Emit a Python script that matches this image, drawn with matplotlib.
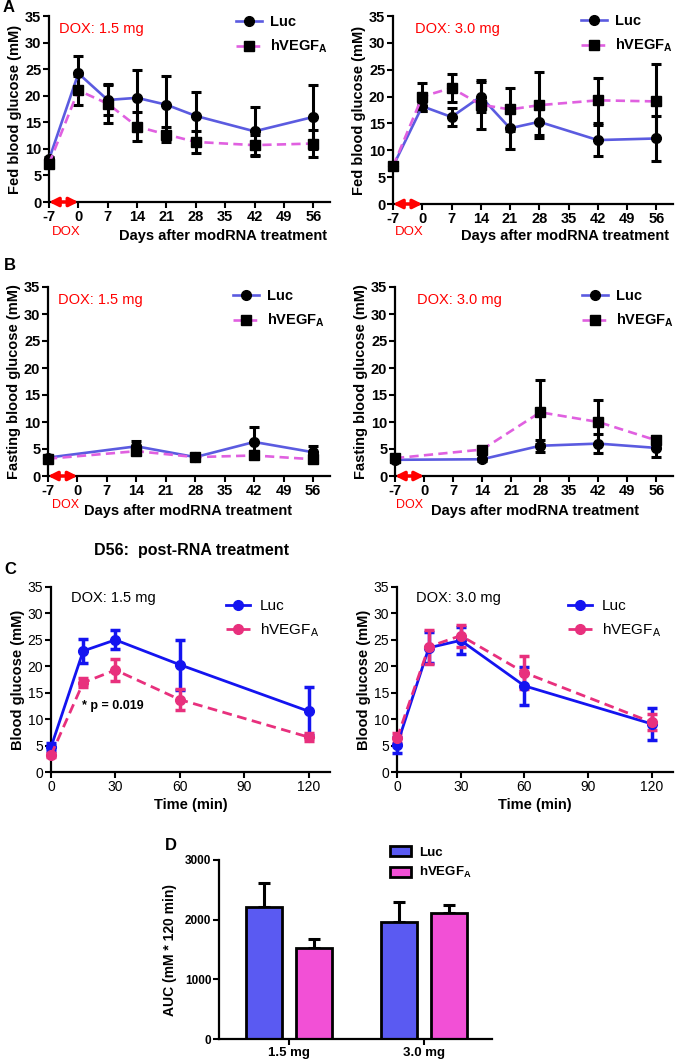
import matplotlib
matplotlib.use("Agg")
import matplotlib.pyplot as plt
from matplotlib.lines import Line2D
import numpy as np

plt.rcParams['font.family'] = ['Liberation Sans', 'DejaVu Sans']
plt.rcParams['mathtext.fontset'] = 'custom'
plt.rcParams['mathtext.rm'] = 'Liberation Sans'
plt.rcParams['mathtext.bf'] = 'Liberation Sans:bold'
plt.rcParams['axes.unicode_minus'] = False

# ---------------- data ----------------
days_A = [-7, 0, 7, 14, 21, 28, 42, 56]
fed15_luc = [8.0, 24.2, 19.2, 19.6, 18.3, 16.2, 13.3, 16.0]
fed15_luc_err = [0.5, 3.2, 2.8, 5.3, 5.5, 4.5, 4.6, 6.0]
fed15_veg = [7.2, 21.0, 18.5, 14.2, 12.7, 11.3, 10.7, 11.0]
fed15_veg_err = [0.6, 2.7, 3.7, 2.8, 1.4, 2.1, 1.9, 2.5]
fed30_luc = [7.0, 18.2, 16.2, 20.0, 14.1, 15.3, 11.9, 12.2]
fed30_luc_err = [0.4, 0.8, 1.6, 2.8, 3.9, 2.5, 2.9, 4.2]
fed30_veg = [7.0, 20.0, 21.6, 18.5, 17.6, 18.4, 19.3, 19.1]
fed30_veg_err = [0.4, 2.6, 2.6, 4.6, 4.0, 6.2, 4.2, 6.9]

days_B = [-7, 14, 28, 42, 56]
fast15_luc = [3.4, 5.5, 3.5, 6.3, 4.4]
fast15_luc_err = [0.3, 1.0, 0.3, 2.7, 1.2]
fast15_veg = [3.2, 4.6, 3.5, 3.8, 3.1]
fast15_veg_err = [0.3, 0.5, 0.3, 0.5, 0.5]
fast30_luc = [3.0, 3.1, 5.6, 6.0, 5.2]
fast30_luc_err = [0.3, 0.3, 1.1, 1.7, 1.6]
fast30_veg = [3.3, 4.9, 11.8, 10.0, 6.6]
fast30_veg_err = [0.3, 0.4, 5.9, 4.0, 0.8]

times_C = [0, 15, 30, 60, 120]
gtt15_luc = [4.7, 22.9, 25.0, 20.3, 11.5]
gtt15_luc_err = [0.8, 2.2, 1.8, 4.7, 4.5]
gtt15_veg = [3.2, 16.9, 19.3, 13.7, 6.6]
gtt15_veg_err = [0.4, 0.9, 2.1, 2.0, 0.8]
gtt30_luc = [5.1, 23.5, 24.9, 16.3, 9.1]
gtt30_luc_err = [1.5, 2.9, 2.6, 3.6, 3.0]
gtt30_veg = [6.4, 23.7, 25.8, 18.8, 9.4]
gtt30_veg_err = [1.0, 3.2, 2.1, 3.1, 1.5]

auc_groups = ['1.5 mg', '3.0 mg']
auc_luc = [2210, 1965]
auc_luc_err = [410, 330]
auc_veg = [1525, 2110]
auc_veg_err = [150, 135]

dose_labels = ['DOX: 1.5 mg', 'DOX: 3.0 mg']
veg_label = r'hVEGF$_\mathbf{A}$'
veg_label_r = r'hVEGF$_\mathrm{A}$'

# ---------------- figure ----------------
W, H = 679, 1062
fig = plt.figure(figsize=(W / 100, H / 100), dpi=100)


def axpx(l, r, t, b):
    return fig.add_axes([l / W, 1 - b / H, (r - l) / W, (b - t) / H])


def fpx(x, y):
    return (x / W, 1 - y / H)


LUC_A = '#5b5be0'
VEG_A = '#e060e0'
LUC_C = '#1414f0'
VEG_C = '#e8307d'
DASH = (0, (3.5, 2))


def style_axes(ax, bold=True, fs=10):
    for s in ['top', 'right']:
        ax.spines[s].set_visible(False)
    for s in ['left', 'bottom']:
        ax.spines[s].set_linewidth(1.6)
    ax.tick_params(width=1.5, length=4, labelsize=fs, pad=1.5)
    for lab in ax.get_xticklabels() + ax.get_yticklabels():
        lab.set_fontweight('bold' if bold else 'normal')


def time_panel(ax, days, luc, luc_e, veg, veg_e, dose, ylabel, legpos):
    ax.errorbar(days, luc, yerr=luc_e, color=LUC_A, lw=1.9, marker='o', ms=7,
                mfc='black', mec='black', ecolor='black', elinewidth=2.2,
                capsize=3.5, capthick=2.2, clip_on=False, zorder=3)
    ax.errorbar(days, veg, yerr=veg_e, color=VEG_A, lw=1.9, ls=DASH,
                marker='s', ms=7, mfc='black', mec='black', ecolor='black',
                elinewidth=2.2, capsize=3.5, capthick=2.2,
                clip_on=False, zorder=3)
    ax.set_xlim(-7, 60)
    ax.set_ylim(0, 35)
    ax.set_xticks(range(-7, 57, 7))
    ax.set_yticks(range(0, 36, 5))
    ax.set_ylabel(ylabel, fontsize=10.5, fontweight='bold', labelpad=2)
    style_axes(ax, fs=10.5)
    ax.text(0.035 if ax.get_position().x0 < 0.5 else 0.08, 0.93, dose,
            transform=ax.transAxes, color='red', fontsize=10.5, va='center')
    ax.annotate('', xy=(-7, 0), xytext=(0, 0),
                arrowprops=dict(arrowstyle='<|-|>', color='red', lw=2.5,
                                mutation_scale=13, shrinkA=0, shrinkB=0),
                annotation_clip=False, zorder=5)
    handles = [Line2D([], [], color=LUC_A, lw=1.9, marker='o', ms=7,
                      mfc='black', mec='black'),
               Line2D([], [], color=VEG_A, lw=1.9, ls=DASH, marker='s', ms=7,
                      mfc='black', mec='black')]
    ax.legend(handles, ['Luc', veg_label], loc='upper left',
              bbox_to_anchor=fpx(*legpos),
              bbox_transform=fig.transFigure, frameon=False,
              handlelength=1.8, handletextpad=0.5, labelspacing=0.6,
              borderpad=0, borderaxespad=0, prop={'weight': 'bold', 'size': 10.5})


# Panel A
axA1 = axpx(49, 330, 16, 202)
time_panel(axA1, days_A, fed15_luc, fed15_luc_err, fed15_veg, fed15_veg_err,
           dose_labels[0], 'Fed blood glucose (mM)', (236, 15))
axA2 = axpx(393, 673, 16, 204)
time_panel(axA2, days_A, fed30_luc, fed30_luc_err, fed30_veg, fed30_veg_err,
           dose_labels[1], 'Fed blood glucose (mM)', (581, 14))
fig.text(*fpx(66, 232), 'DOX', color='red', fontsize=9.5, ha='center', va='center')
fig.text(*fpx(223, 236), 'Days after modRNA treatment', fontsize=10.5,
         fontweight='bold', ha='center', va='center')
fig.text(*fpx(409, 232), 'DOX', color='red', fontsize=9.5, ha='center', va='center')
fig.text(*fpx(565, 236), 'Days after modRNA treatment', fontsize=10.5,
         fontweight='bold', ha='center', va='center')

# Panel B
axB1 = axpx(48, 330, 287, 476)
time_panel(axB1, days_B, fast15_luc, fast15_luc_err, fast15_veg, fast15_veg_err,
           dose_labels[0], 'Fasting blood glucose (mM)', (233, 289))
axB2 = axpx(395, 673, 287, 476)
time_panel(axB2, days_B, fast30_luc, fast30_luc_err, fast30_veg, fast30_veg_err,
           dose_labels[1], 'Fasting blood glucose (mM)', (582, 289))
fig.text(*fpx(66, 505), 'DOX', color='red', fontsize=9, ha='center', va='center')
fig.text(*fpx(188, 511), 'Days after modRNA treatment', fontsize=10.5,
         fontweight='bold', ha='center', va='center')
fig.text(*fpx(410, 505), 'DOX', color='red', fontsize=9, ha='center', va='center')
fig.text(*fpx(535, 511), 'Days after modRNA treatment', fontsize=10.5,
         fontweight='bold', ha='center', va='center')


# Panel C
def gtt_panel(ax, luc, luc_e, veg, veg_e, dose, legpos):
    ax.errorbar(times_C, luc, yerr=luc_e, color=LUC_C, lw=2, marker='o', ms=7,
                ecolor=LUC_C, elinewidth=2.5, capsize=3.5, capthick=2.5,
                clip_on=False, zorder=3)
    ax.errorbar(times_C, veg, yerr=veg_e, color=VEG_C, lw=2, ls=DASH,
                marker='o', ms=7, ecolor=VEG_C, elinewidth=2.5, capsize=3.5,
                capthick=2.5, clip_on=False, zorder=3)
    ax.set_xlim(0, 130)
    ax.set_ylim(0, 35)
    ax.set_xticks([0, 30, 60, 90, 120])
    ax.set_yticks(range(0, 36, 5))
    ax.set_ylabel('Blood glucose (mM)', fontsize=10.5, fontweight='bold', labelpad=2)
    ax.set_xlabel('Time (min)', fontsize=10.5, fontweight='bold', labelpad=3)
    style_axes(ax, bold=False, fs=10)
    ax.text(0.07, 0.94, dose, transform=ax.transAxes, color='black',
            fontsize=10.5, va='center')
    handles = [Line2D([], [], color=LUC_C, lw=2, marker='o', ms=7),
               Line2D([], [], color=VEG_C, lw=2, ls=DASH, marker='o', ms=7)]
    ax.legend(handles, ['Luc', veg_label_r], loc='upper left',
              bbox_to_anchor=fpx(*legpos),
              bbox_transform=fig.transFigure, frameon=False,
              handlelength=1.6, handletextpad=0.6, labelspacing=0.55,
              borderpad=0, borderaxespad=0, prop={'size': 11})


axC1 = axpx(51, 330, 587, 772)
gtt_panel(axC1, gtt15_luc, gtt15_luc_err, gtt15_veg, gtt15_veg_err,
          dose_labels[0], (226, 599))
axC1.text(14.5, 12.5, '* p = 0.019', fontsize=9, fontweight='bold', va='center')
axC2 = axpx(397, 673, 587, 772)
gtt_panel(axC2, gtt30_luc, gtt30_luc_err, gtt30_veg, gtt30_veg_err,
          dose_labels[1], (568, 599))
fig.text(*fpx(192, 550), 'D56:  post-RNA treatment', fontsize=11.5,
         fontweight='bold', ha='center', va='center')

# Panel D
axD = axpx(219, 492, 860, 1039)
xg = np.arange(len(auc_groups))
bw = 0.267
off = 0.185
axD.bar(xg - off, auc_luc, width=bw, color='#5a5af2', edgecolor='black',
        linewidth=2, label='Luc', zorder=2)
axD.bar(xg + off, auc_veg, width=bw, color='#f250d6', edgecolor='black',
        linewidth=2, label=veg_label, zorder=2)
axD.errorbar(xg - off, auc_luc, yerr=[np.zeros(2), auc_luc_err], fmt='none',
             ecolor='black', elinewidth=2.2, capsize=4.5, capthick=2.2, zorder=1)
axD.errorbar(xg + off, auc_veg, yerr=[np.zeros(2), auc_veg_err], fmt='none',
             ecolor='black', elinewidth=2.2, capsize=4.5, capthick=2.2, zorder=1)
axD.set_xlim(-0.52, 1.5)
axD.set_ylim(0, 3000)
axD.set_yticks([0, 1000, 2000, 3000])
axD.set_xticks(xg)
axD.set_xticklabels(auc_groups)
axD.set_ylabel('AUC (mM * 120 min)', fontsize=10, fontweight='bold', labelpad=6)
style_axes(axD, bold=True, fs=8.5)
for lab in axD.get_xticklabels():
    lab.set_fontsize(9.5)
axD.legend(loc='upper left', bbox_to_anchor=fpx(390, 846),
           bbox_transform=fig.transFigure, frameon=False,
           handlelength=1.6, handleheight=0.8, handletextpad=0.6,
           labelspacing=0.5, borderpad=0, borderaxespad=0,
           prop={'weight': 'bold', 'size': 9.5})

# Panel letters
for lt, (x, y) in zip(['A', 'B', 'C', 'D'], [(9, 8), (10, 265), (10, 570), (171, 846)]):
    fig.text(*fpx(x, y), lt, fontsize=12, fontweight='bold', ha='center', va='center')

fig.savefig('out.png', dpi=100)
